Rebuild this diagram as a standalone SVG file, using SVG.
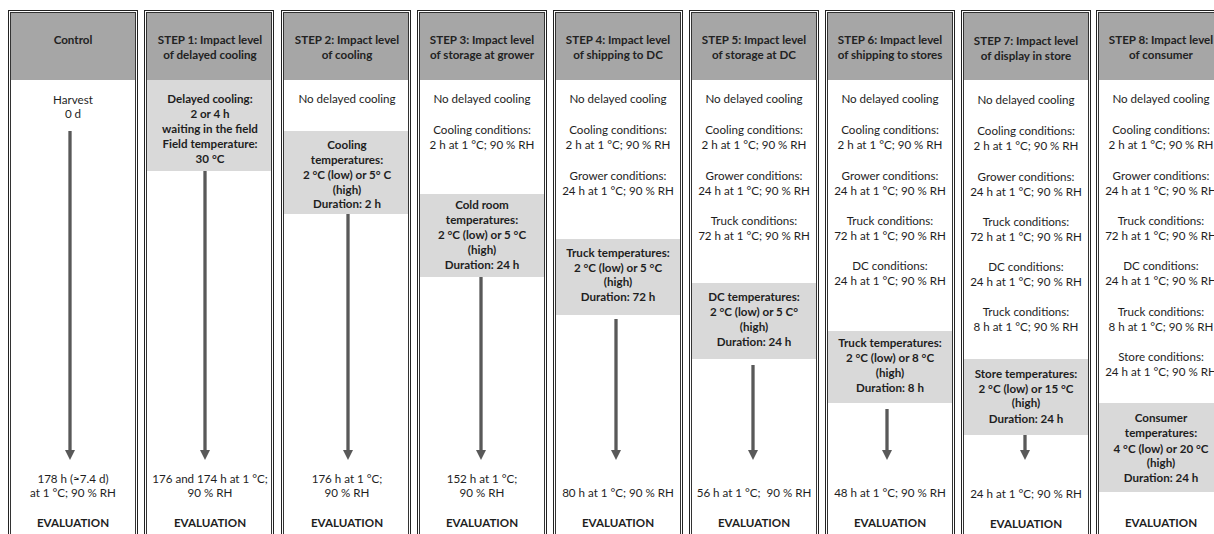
<svg xmlns="http://www.w3.org/2000/svg" width="1214" height="534" viewBox="0 0 1214 534">
<defs>
<style>
text{font-family:Lato,"Liberation Sans",sans-serif;fill:#1e1e1e;text-anchor:middle}
.t{font-size:11.6px}
.b{font-size:11.6px;font-weight:bold}
.hd{font-size:11.6px;font-weight:bold;fill:#222}
.o{fill:#fff;stroke:#222;stroke-width:1}
.i{fill:none;stroke:#333;stroke-width:1}
.h{fill:#a6a6a6}
.g{fill:#d9d9d9}
.ar{stroke:#595959;stroke-width:3.3;fill:none;marker-end:url(#ah)}
</style>
<marker id="ah" viewBox="0 0 10 10" refX="0" refY="5" markerWidth="10" markerHeight="10" markerUnits="userSpaceOnUse" orient="auto">
<path d="M0,0 L10,5 L0,10 z" fill="#595959"/>
</marker>
</defs>
<rect width="1214" height="534" fill="#fff"/>

<g id="control">
<rect class="o" x="8.5" y="10.5" width="129" height="540"/>
<rect class="h" x="11" y="13" width="124" height="67"/>
<rect class="i" x="10.5" y="12.5" width="125" height="540"/>
<text class="hd" x="73" y="44">Control</text>
<text class="t" x="73" y="104">Harvest</text>
<text class="t" x="73" y="118">0 d</text>
<text class="t" x="73" y="483">178 h (≈7.4 d)</text>
<text class="t" x="73" y="497">at 1 °C; 90 % RH</text>
<text class="b" x="73" y="527">EVALUATION</text>
</g>

<g id="step1">
<rect class="o" x="144.5" y="10.5" width="129" height="540"/>
<rect class="h" x="147" y="13" width="124" height="67"/>
<rect class="g" x="147" y="80" width="124" height="91"/>
<rect class="i" x="146.5" y="12.5" width="125" height="540"/>
<text class="hd" x="210" y="44">STEP 1: Impact level</text>
<text class="hd" x="210" y="59">of delayed cooling</text>
<text class="b" x="210" y="103">Delayed cooling:</text>
<text class="b" x="210" y="118">2 or 4 h</text>
<text class="b" x="210" y="133">waiting in the field</text>
<text class="b" x="210" y="148">Field temperature:</text>
<text class="b" x="210" y="163">30 °C</text>
<text class="t" x="210" y="483">176 and 174 h at 1 °C;</text>
<text class="t" x="210" y="497">90 % RH</text>
<text class="b" x="210" y="527">EVALUATION</text>
</g>

<g id="step2">
<rect class="o" x="281.5" y="10.5" width="129" height="540"/>
<rect class="h" x="284" y="13" width="124" height="67"/>
<rect class="g" x="284" y="131" width="124" height="83"/>
<rect class="i" x="283.5" y="12.5" width="125" height="540"/>
<text class="hd" x="347" y="44">STEP 2: Impact level</text>
<text class="hd" x="347" y="59">of cooling</text>
<text class="t" x="347" y="103">No delayed cooling</text>
<text class="b" x="347" y="149">Cooling</text>
<text class="b" x="347" y="164">temperatures:</text>
<text class="b" x="347" y="179">2 °C (low) or 5° C</text>
<text class="b" x="347" y="194">(high)</text>
<text class="b" x="347" y="208">Duration: 2 h</text>
<text class="t" x="347" y="483">176 h at 1 °C;</text>
<text class="t" x="347" y="497">90 % RH</text>
<text class="b" x="347" y="527">EVALUATION</text>
</g>

<g id="step3">
<rect class="o" x="417.5" y="10.5" width="129" height="540"/>
<rect class="h" x="420" y="13" width="124" height="67"/>
<rect class="g" x="420" y="194" width="124" height="83"/>
<rect class="i" x="419.5" y="12.5" width="125" height="540"/>
<text class="hd" x="482" y="44">STEP 3: Impact level</text>
<text class="hd" x="482" y="59">of storage at grower</text>
<text class="t" x="482" y="103">No delayed cooling</text>
<text class="t" x="482" y="134">Cooling conditions:</text>
<text class="t" x="482" y="149">2 h at 1 °C; 90 % RH</text>
<text class="b" x="482" y="209">Cold room</text>
<text class="b" x="482" y="224">temperatures:</text>
<text class="b" x="482" y="239">2 °C (low) or 5 °C</text>
<text class="b" x="482" y="254">(high)</text>
<text class="b" x="482" y="269">Duration: 24 h</text>
<text class="t" x="482" y="483">152 h at 1 °C;</text>
<text class="t" x="482" y="497">90 % RH</text>
<text class="b" x="482" y="527">EVALUATION</text>
</g>

<g id="step4">
<rect class="o" x="553.5" y="10.5" width="129" height="540"/>
<rect class="h" x="556" y="13" width="124" height="67"/>
<rect class="g" x="556" y="239" width="124" height="76"/>
<rect class="i" x="555.5" y="12.5" width="125" height="540"/>
<text class="hd" x="618" y="44">STEP 4: Impact level</text>
<text class="hd" x="618" y="59">of shipping to DC</text>
<text class="t" x="618" y="103">No delayed cooling</text>
<text class="t" x="618" y="134">Cooling conditions:</text>
<text class="t" x="618" y="149">2 h at 1 °C; 90 % RH</text>
<text class="t" x="618" y="180">Grower conditions:</text>
<text class="t" x="618" y="195">24 h at 1 °C; 90 % RH</text>
<text class="b" x="618" y="257">Truck temperatures:</text>
<text class="b" x="618" y="272">2 °C (low) or 5 °C</text>
<text class="b" x="618" y="286">(high)</text>
<text class="b" x="618" y="301">Duration: 72 h</text>
<text class="t" x="618" y="497">80 h at 1 °C; 90 % RH</text>
<text class="b" x="618" y="527">EVALUATION</text>
</g>

<g id="step5">
<rect class="o" x="689.5" y="10.5" width="129" height="540"/>
<rect class="h" x="692" y="13" width="124" height="67"/>
<rect class="g" x="692" y="283" width="124" height="76"/>
<rect class="i" x="691.5" y="12.5" width="125" height="540"/>
<text class="hd" x="754" y="44">STEP 5: Impact level</text>
<text class="hd" x="754" y="59">of storage at DC</text>
<text class="t" x="754" y="103">No delayed cooling</text>
<text class="t" x="754" y="134">Cooling conditions:</text>
<text class="t" x="754" y="149">2 h at 1 °C; 90 % RH</text>
<text class="t" x="754" y="180">Grower conditions:</text>
<text class="t" x="754" y="195">24 h at 1 °C; 90 % RH</text>
<text class="t" x="754" y="225">Truck conditions:</text>
<text class="t" x="754" y="240">72 h at 1 °C; 90 % RH</text>
<text class="b" x="754" y="301">DC temperatures:</text>
<text class="b" x="754" y="316">2 °C (low) or 5 C°</text>
<text class="b" x="754" y="331">(high)</text>
<text class="b" x="754" y="346">Duration: 24 h</text>
<text class="t" x="754" y="497" xml:space="preserve">56 h at 1 °C;  90 % RH</text>
<text class="b" x="754" y="527">EVALUATION</text>
</g>

<g id="step6">
<rect class="o" x="825.5" y="10.5" width="129" height="540"/>
<rect class="h" x="828" y="13" width="124" height="67"/>
<rect class="g" x="828" y="331" width="124" height="72"/>
<rect class="i" x="827.5" y="12.5" width="125" height="540"/>
<text class="hd" x="890" y="44">STEP 6: Impact level</text>
<text class="hd" x="890" y="59">of shipping to stores</text>
<text class="t" x="890" y="103">No delayed cooling</text>
<text class="t" x="890" y="134">Cooling conditions:</text>
<text class="t" x="890" y="149">2 h at 1 °C; 90 % RH</text>
<text class="t" x="890" y="180">Grower conditions:</text>
<text class="t" x="890" y="195">24 h at 1 °C; 90 % RH</text>
<text class="t" x="890" y="225">Truck conditions:</text>
<text class="t" x="890" y="240">72 h at 1 °C; 90 % RH</text>
<text class="t" x="890" y="270">DC conditions:</text>
<text class="t" x="890" y="285">24 h at 1 °C; 90 % RH</text>
<text class="b" x="890" y="347">Truck temperatures:</text>
<text class="b" x="890" y="362">2 °C (low) or 8 °C</text>
<text class="b" x="890" y="377">(high)</text>
<text class="b" x="890" y="392">Duration: 8 h</text>
<text class="t" x="890" y="497">48 h at 1 °C; 90 % RH</text>
<text class="b" x="890" y="527">EVALUATION</text>
</g>

<g id="step7">
<rect class="o" x="961.5" y="10.5" width="129" height="540"/>
<rect class="h" x="964" y="13" width="124" height="67"/>
<rect class="g" x="964" y="359" width="124" height="76"/>
<rect class="i" x="963.5" y="12.5" width="125" height="540"/>
<text class="hd" x="1026" y="45">STEP 7: Impact level</text>
<text class="hd" x="1026" y="60">of display in store</text>
<text class="t" x="1026" y="104">No delayed cooling</text>
<text class="t" x="1026" y="135">Cooling conditions:</text>
<text class="t" x="1026" y="150">2 h at 1 °C; 90 % RH</text>
<text class="t" x="1026" y="181">Grower conditions:</text>
<text class="t" x="1026" y="196">24 h at 1 °C; 90 % RH</text>
<text class="t" x="1026" y="226">Truck conditions:</text>
<text class="t" x="1026" y="241">72 h at 1 °C; 90 % RH</text>
<text class="t" x="1026" y="271">DC conditions:</text>
<text class="t" x="1026" y="286">24 h at 1 °C; 90 % RH</text>
<text class="t" x="1026" y="316">Truck conditions:</text>
<text class="t" x="1026" y="331">8 h at 1 °C; 90 % RH</text>
<text class="b" x="1026" y="378">Store temperatures:</text>
<text class="b" x="1026" y="393">2 °C (low) or 15 °C</text>
<text class="b" x="1026" y="407">(high)</text>
<text class="b" x="1026" y="423">Duration: 24 h</text>
<text class="t" x="1026" y="498">24 h at 1 °C; 90 % RH</text>
<text class="b" x="1026" y="528">EVALUATION</text>
</g>

<g id="step8">
<rect class="o" x="1096.5" y="10.5" width="129" height="540"/>
<rect class="h" x="1099" y="13" width="124" height="67"/>
<rect class="g" x="1099" y="403" width="124" height="89"/>
<rect class="i" x="1098.5" y="12.5" width="125" height="540"/>
<text class="hd" x="1161" y="44">STEP 8: Impact level</text>
<text class="hd" x="1161" y="59">of consumer</text>
<text class="t" x="1161" y="103">No delayed cooling</text>
<text class="t" x="1161" y="134">Cooling conditions:</text>
<text class="t" x="1161" y="149">2 h at 1 °C; 90 % RH</text>
<text class="t" x="1161" y="180">Grower conditions:</text>
<text class="t" x="1161" y="195">24 h at 1 °C; 90 % RH</text>
<text class="t" x="1161" y="225">Truck conditions:</text>
<text class="t" x="1161" y="240">72 h at 1 °C; 90 % RH</text>
<text class="t" x="1161" y="270">DC conditions:</text>
<text class="t" x="1161" y="285">24 h at 1 °C; 90 % RH</text>
<text class="t" x="1161" y="316">Truck conditions:</text>
<text class="t" x="1161" y="331">8 h at 1 °C; 90 % RH</text>
<text class="t" x="1161" y="361">Store conditions:</text>
<text class="t" x="1161" y="376">24 h at 1 °C; 90 % RH</text>
<text class="b" x="1161" y="422">Consumer</text>
<text class="b" x="1161" y="437">temperatures:</text>
<text class="b" x="1161" y="453">4 °C (low) or 20 °C</text>
<text class="b" x="1161" y="467">(high)</text>
<text class="b" x="1161" y="482">Duration: 24 h</text>
<text class="b" x="1161" y="527">EVALUATION</text>
</g>

<g id="connectors">
<line class="ar" x1="70" y1="131" x2="70" y2="450"/>
<line class="ar" x1="205" y1="171" x2="205" y2="450"/>
<line class="ar" x1="348" y1="214" x2="348" y2="450"/>
<line class="ar" x1="481" y1="277" x2="481" y2="450"/>
<line class="ar" x1="616" y1="319" x2="616" y2="450"/>
<line class="ar" x1="753" y1="365" x2="753" y2="450"/>
<line class="ar" x1="887" y1="409" x2="887" y2="450"/>
<line class="ar" x1="1025" y1="435" x2="1025" y2="450"/>
</g>
</svg>
